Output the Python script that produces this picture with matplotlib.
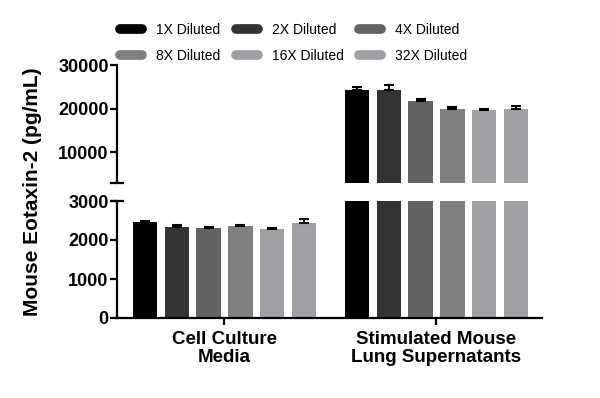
import matplotlib.pyplot as plt
from matplotlib.lines import Line2D
import numpy as np

groups = ["Cell Culture\nMedia", "Stimulated Mouse\nLung Supernatants"]
dilutions = ["1X Diluted", "2X Diluted", "4X Diluted", "8X Diluted", "16X Diluted", "32X Diluted"]
colors = ["#000000", "#333333", "#636363", "#808080", "#a0a0a4", "#a0a0a4"]

# rows = dilution, columns = group
values = np.array([
    [2450, 24300],
    [2330, 24300],
    [2300, 21700],
    [2350, 19900],
    [2280, 19700],
    [2440, 20000],
])
errors = np.array([
    [40, 600],
    [50, 1100],
    [40, 450],
    [35, 400],
    [40, 150],
    [100, 600],
])

plt.rcParams['font.family'] = ['Liberation Sans', 'DejaVu Sans']

fig = plt.figure(figsize=(6, 3.98), dpi=100, facecolor='white')
left, right = 117/600, 542/600
ax_lo = fig.add_axes([left, 1-318/398, right-left, (318-201)/398])
ax_hi = fig.add_axes([left, 1-182.5/398, right-left, (182.5-65)/398])

brk = 3000
x = np.arange(len(groups))
step = 0.15
width = 0.115
for i in range(len(dilutions)):
    pos = x + (i - 2.5) * step
    for ax, keep in ((ax_lo, values[i] < brk), (ax_hi, values[i] >= brk)):
        ax.bar(pos, values[i], width, color=colors[i], zorder=2)
        ax.errorbar(pos[keep], values[i][keep],
                    yerr=[np.zeros(keep.sum()), errors[i][keep]], fmt='none',
                    ecolor='black', elinewidth=1.5, capsize=3.5, capthick=1.5, zorder=3)

for ax in (ax_lo, ax_hi):
    ax.set_xlim(-0.507, 1.498)
    ax.spines['top'].set_visible(False)
    ax.spines['right'].set_visible(False)
    ax.spines['left'].set_linewidth(1.6)
    ax.spines['bottom'].set_linewidth(1.6)
    ax.tick_params(axis='y', width=1.6, length=5, labelsize=13, pad=1)

ax_lo.set_ylim(0, brk)
ax_lo.set_yticks([0, 1000, 2000, 3000])
ax_lo.set_xticks(x)
ax_lo.set_xticklabels(groups, fontsize=13.5, fontweight='bold', linespacing=1.1)
ax_lo.tick_params(axis='x', width=1.6, length=5, pad=4)

ax_hi.set_ylim(brk, 30000)
ax_hi.set_yticks([10000, 20000, 30000])
ax_hi.spines['bottom'].set_visible(False)
ax_hi.set_xticks([])

for ax in (ax_lo, ax_hi):
    for lab in ax.get_yticklabels():
        lab.set_fontweight('bold')

# break caps on the y axis
d = 0.015
ax_lo.plot([-d, d], [1, 1], transform=ax_lo.transAxes, color='black', lw=1.6, clip_on=False)
ax_hi.plot([-d, d], [0, 0], transform=ax_hi.transAxes, color='black', lw=1.6, clip_on=False)

fig.text(0.055, 1-192/398, "Mouse Eotaxin-2 (pg/mL)", rotation=90, ha='center', va='center',
         fontsize=15, fontweight='bold')

handles = [Line2D([], [], color=c, lw=7, solid_capstyle='round') for c in colors]
order = [0, 3, 1, 4, 2, 5]
fig.legend([handles[k] for k in order], [dilutions[k] for k in order], ncol=3,
           loc='upper left', bbox_to_anchor=(120/600, 1-23/398), frameon=False, fontsize=10,
           handlelength=1.6, handletextpad=1.0, columnspacing=1.1, labelspacing=0.85,
           borderpad=0, borderaxespad=0)

plt.savefig("out.png", dpi=100)
